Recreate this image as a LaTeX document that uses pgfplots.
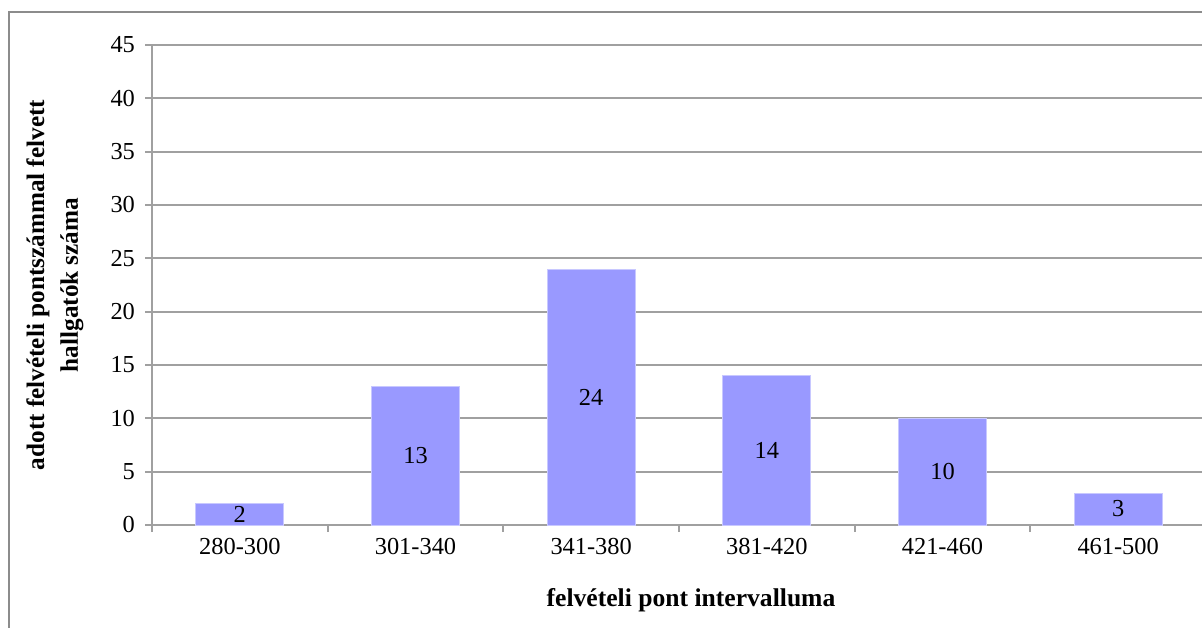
\documentclass[border=0pt]{standalone}
\usepackage{pgfplots}
\pgfplotsset{compat=1.18}
\usepackage{fontspec}
\setmainfont{Liberation Serif}
\definecolor{barblue}{HTML}{9999FF}
\definecolor{baredge}{HTML}{C8C8FF}
\definecolor{gridgray}{HTML}{A0A0A0}
\definecolor{framegray}{HTML}{8C8C8C}
\begin{document}
\begin{tikzpicture}[x=0.5pt,y=0.5pt]
\clip (0,0) rectangle (1202,627);
% chart frame (runs off the right and bottom edges)
\draw[framegray, line width=0.7pt] (9,-20) -- (9,615) -- (1240,615);
\begin{axis}[
  at={(76pt,51pt)}, anchor=south west,
  scale only axis, width=527pt, height=240pt,
  ybar, bar width=44pt,
  xmin=-0.5, xmax=5.5, ymin=0, ymax=45,
  ytick={0,5,...,45},
  xtick={-0.5,0.5,...,5.5},
  xticklabels={280-300,301-340,341-380,381-420,421-460,461-500},
  x tick label as interval,
  axis x line*=bottom, axis y line*=left,
  axis line style={gridgray, line width=0.9pt, -},
  tick align=outside, major tick length=3.5pt,
  tick style={gridgray, line width=0.9pt},
  ymajorgrids, grid style={gridgray, line width=0.9pt},
  tick label style={font=\fontsize{12.2}{14}\selectfont},
  yticklabel style={xshift=-1.5pt},
  xticklabel style={yshift=0.5pt},
  /pgf/number format/assume math mode=true,
  nodes near coords,
  visualization depends on=y \as \rawy,
  every node near coord/.append style={anchor=center, font=\fontsize{12.2}{14}\selectfont,
    shift={(axis direction cs:0,-\rawy/2)}},
]
\addplot[fill=barblue, draw=baredge, line width=0.5pt] coordinates {
  (0,2) (1,13) (2,24) (3,14) (4,10) (5,3)
};
\end{axis}
\node[font=\bfseries\fontsize{12.8}{15}\selectfont] at (691,27) {felvételi pont intervalluma};
\node[font=\bfseries\fontsize{12.6}{15}\selectfont, rotate=90] at (38,342) {adott felvételi pontszámmal felvett};
\node[font=\bfseries\fontsize{12.6}{15}\selectfont, rotate=90] at (72,342) {hallgatók száma};
\end{tikzpicture}
\end{document}
